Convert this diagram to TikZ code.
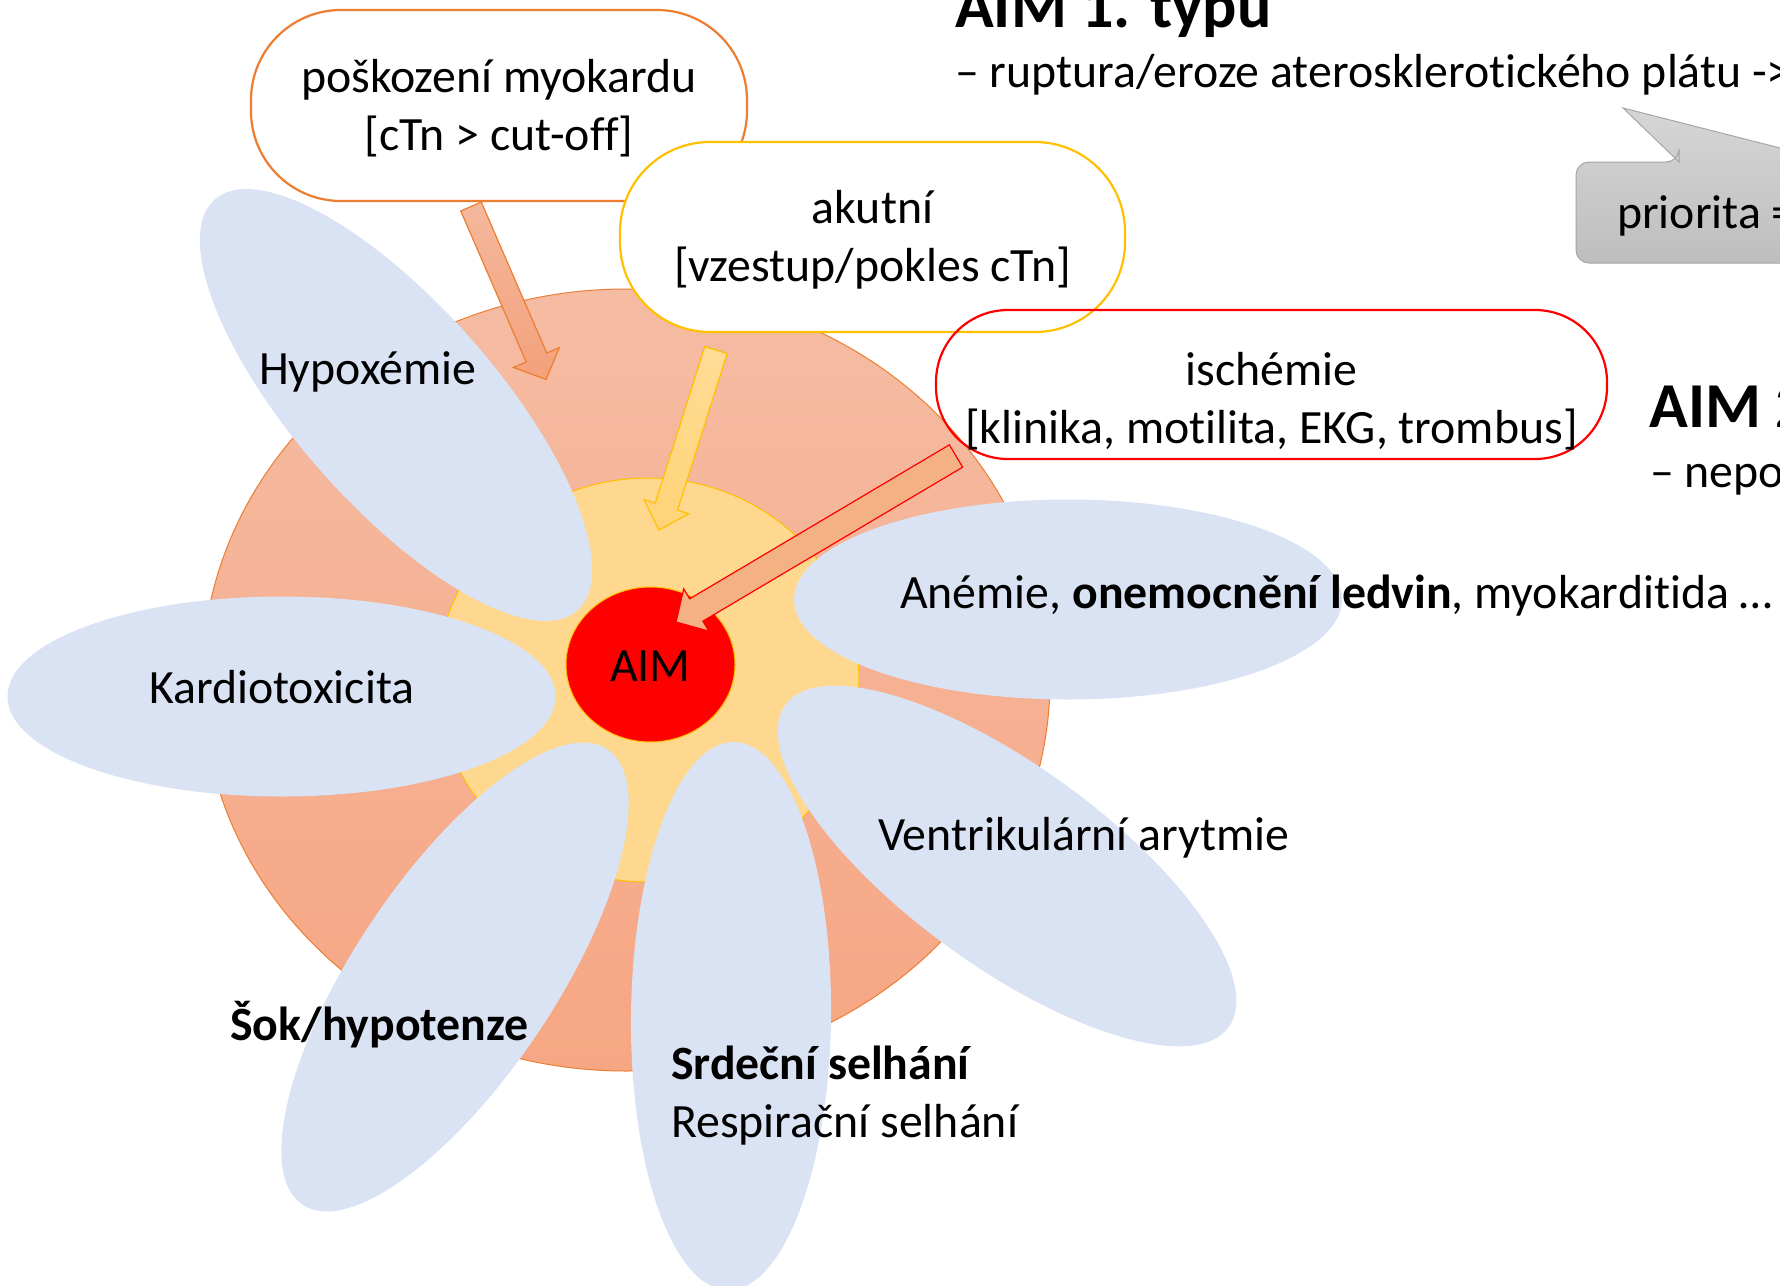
\documentclass[tikz,border=0pt]{standalone}
\usepackage{fontspec}
\setmainfont{Carlito}[Ligatures=NoCommon]
\usetikzlibrary{calc,shapes.geometric}
\definecolor{petalc}{HTML}{DAE3F3}
\definecolor{orline}{HTML}{ED7D31}
\definecolor{yeline}{HTML}{FFC000}
\definecolor{orfillA}{HTML}{F5BCA3}
\definecolor{orfillB}{HTML}{F6A683}
\definecolor{yefill}{HTML}{FFD88F}
\definecolor{arrorA}{HTML}{F5B89D}
\definecolor{arrorB}{HTML}{F3A17B}
\definecolor{arryeA}{HTML}{FFDC96}
\definecolor{arryeB}{HTML}{FFD477}
\definecolor{arrrd}{HTML}{F4B183}
\definecolor{calA}{HTML}{D6D6D6}
\definecolor{calB}{HTML}{BEBEBE}
\definecolor{calline}{HTML}{A6A6A6}
\newcommand{\myblockarrow}[6]{%
  \coordinate (#2-h) at ($(#2)!#5!(#1)$);
  \path[#6] ($(#1)!#3!90:(#2)$) -- ($(#2-h)!#3!90:(#2)$) -- ($(#2-h)!#4!90:(#2)$) -- (#2)
    -- ($(#2-h)!#4!-90:(#2)$) -- ($(#2-h)!#3!-90:(#2)$) -- ($(#1)!#3!-90:(#2)$) -- cycle;
}
\tikzset{
  petal/.style={ellipse, fill=petalc, minimum width=548pt, minimum height=200pt, inner sep=0pt},
  pill/.style={rectangle, fill=white, line width=2.2pt, inner sep=0pt},
  lbl/.style={inner sep=0pt, font=\fontsize{47.8pt}{58pt}\selectfont},
  ttl/.style={inner sep=0pt, font=\fontsize{64pt}{77pt}\selectfont\bfseries},
}
\begin{document}
\begin{tikzpicture}[x=1pt,y=-1pt]
\useasboundingbox (0,0) rectangle (1780,1285);
\clip (0,0) rectangle (1780,1285);
\fill[white] (0,0) rectangle (1780,1285);

% concentric zones
\node[ellipse, draw=orline, line width=1pt, top color=orfillA, bottom color=orfillB,
      minimum width=848pt, minimum height=782pt, inner sep=0pt] (outer) at (626,680) {};
\node[ellipse, draw=yeline, line width=1pt, fill=yefill,
      minimum width=422pt, minimum height=404pt, inner sep=0pt] (inner) at (648,680) {};

% petals
\node[petal, rotate=-48.6] (p-hyp) at (396,405) {};
\node[petal] (p-kar) at (281.5,696.5) {};
\node[petal] (p-ane) at (1068,599.5) {};
\node[petal, rotate=-36] (p-ven) at (1007,866) {};
\node[petal, rotate=56.2] (p-sok) at (455,977) {};
\node[petal, rotate=89.4] (p-srd) at (731,1016) {};

% core
\node[ellipse, fill=red, draw=yeline, line width=1pt,
      minimum width=169pt, minimum height=155pt, inner sep=0pt] (aim) at (650.5,664.5) {};
\node[lbl, anchor=base] (t-aim) at (650.5,681) {AIM};

% criteria boxes
\node[pill, draw=orline, rounded corners=90pt, minimum width=496pt, minimum height=191pt] (b-pos) at (499,105.5) {};
\node[pill, draw=yeline, rounded corners=90pt, minimum width=505pt, minimum height=190pt] (b-aku) at (872.5,237) {};
\node[rectangle, draw=red, line width=2.2pt, inner sep=0pt, rounded corners=72pt, minimum width=671pt, minimum height=149pt] (b-isc) at (1271.5,384.5) {};

% box texts
\node[lbl, anchor=base] (t-pos1) at (499,92) {poškození myokardu};
\node[lbl, anchor=base] (t-pos2) at (499,150) {[cTn > cut-off]};
\node[lbl, anchor=base] (t-aku1) at (872.5,223) {akutní};
\node[lbl, anchor=base] (t-aku2) at (872.5,281) {[vzestup/pokles cTn]};
\node[lbl, anchor=base] (t-isc1) at (1271.5,385) {ischémie};
\node[lbl, anchor=base] (t-isc2) at (1271.5,443) {[klinika, motilita, EKG, trombus]};

% block arrows
\coordinate (a1s) at (471,206.5);
\coordinate (a1t) at (546,379.5);
\coordinate (a2s) at (716,350);
\coordinate (a2t) at (659,530);
\coordinate (a3s) at (956,456);
\coordinate (a3t) at (676,622);
\myblockarrow{a1s}{a1t}{11.2pt}{25pt}{24pt}{draw=orline, line width=1.2pt, top color=arrorA, bottom color=arrorB}
\myblockarrow{a2s}{a2t}{11.7pt}{23.5pt}{24.5pt}{draw=yeline, line width=1.2pt, top color=arryeA, bottom color=arryeB}
\myblockarrow{a3s}{a3t}{13pt}{24.6pt}{23.6pt}{draw=red, line width=1.2pt, fill=arrrd}

% petal texts
\node[lbl, anchor=base west] (t-hyp) at (259,384) {Hypoxémie};
\node[lbl, anchor=base west] (t-kar) at (149,703) {Kardiotoxicita};
\node[lbl, anchor=base west] (t-ane) at (900,608) {Anémie, \textbf{onemocnění ledvin}, myokarditida …};
\node[lbl, anchor=base west] (t-ven) at (878,850) {Ventrikulární arytmie};
\node[lbl, anchor=base west] (t-sok) at (230,1040) {\textbf{Šok/hypotenze}};
\node[lbl, anchor=base west] (t-srd1) at (671,1079) {\textbf{Srdeční selhání}};
\node[lbl, anchor=base west] (t-srd2) at (671,1137) {Respirační selhání};

% right-hand texts
\node[ttl, anchor=base west] (t-aim1) at (955,27) {AIM 1. typu};
\node[lbl, anchor=base west] (t-aim1d) at (955,87) {– ruptura/eroze aterosklerotického plátu ->};
\node[ttl, anchor=base west] (t-aim2) at (1649,427) {AIM 2. typu};
\node[lbl, anchor=base west] (t-aim2d) at (1650,487) {– nepoměr};

% callout
\path[draw=calline, line width=1pt, top color=calA, bottom color=calB]
  (1679,162) -- (1623,108) -- (1835,162) -- (1900,162) -- (1900,263)
  [rounded corners=13pt] -- (1576,263) -- (1576,162) -- (1679,162) [sharp corners] -- cycle;
\node[lbl, anchor=base west] (t-pri) at (1617,228) {priorita =};
\end{tikzpicture}
\end{document}
